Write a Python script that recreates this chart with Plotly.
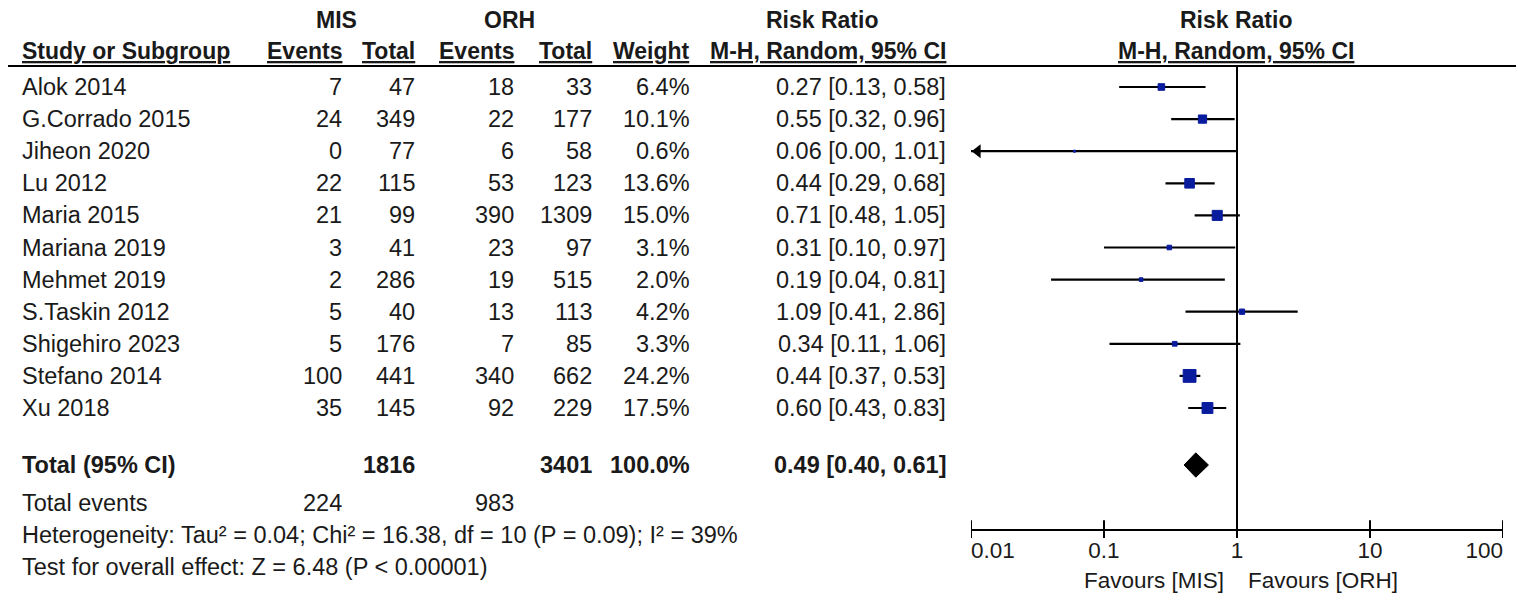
import plotly.graph_objects as go
import numpy as np

# ---------------- data ----------------
studies = ["Alok 2014", "G.Corrado 2015", "Jiheon 2020", "Lu 2012", "Maria 2015",
           "Mariana 2019", "Mehmet 2019", "S.Taskin 2012", "Shigehiro 2023",
           "Stefano 2014", "Xu 2018"]
mis_events = [7, 24, 0, 22, 21, 3, 2, 5, 5, 100, 35]
mis_total = [47, 349, 77, 115, 99, 41, 286, 40, 176, 441, 145]
orh_events = [18, 22, 6, 53, 390, 23, 19, 13, 7, 340, 92]
orh_total = [33, 177, 58, 123, 1309, 97, 515, 113, 85, 662, 229]
weight = [6.4, 10.1, 0.6, 13.6, 15.0, 3.1, 2.0, 4.2, 3.3, 24.2, 17.5]
rr = [0.27, 0.55, 0.06, 0.44, 0.71, 0.31, 0.19, 1.09, 0.34, 0.44, 0.60]
ci_low = [0.13, 0.32, 0.00, 0.29, 0.48, 0.10, 0.04, 0.41, 0.11, 0.37, 0.43]
ci_high = [0.58, 0.96, 1.01, 0.68, 1.05, 0.97, 0.81, 2.86, 1.06, 0.53, 0.83]

total_mis = 1816
total_orh = 3401
total_weight = 100.0
pooled = [0.49, 0.40, 0.61]          # RR, low, high
total_events = [224, 983]             # MIS, ORH
heterogeneity = "Heterogeneity: Tau² = 0.04; Chi² = 16.38, df = 10 (P = 0.09); I² = 39%"
overall_effect = "Test for overall effect: Z = 6.48 (P < 0.00001)"
tick_vals = [0.01, 0.1, 1, 10, 100]
tick_labels = ["0.01", "0.1", "1", "10", "100"]
favours = ["Favours [MIS]", "Favours [ORH]"]

# ---------------- layout constants ----------------
PAGE_OFF = 8                      # default body margin of the html page
W, H = 1524 - PAGE_OFF, 608 - PAGE_OFF
ROW0, ROWH = 87, 32.1             # reference pixel y of first study row, row pitch


def prow(py):
    return (py - ROW0) / ROWH


def fx(px):
    return (px - PAGE_OFF) / W


X_LO, X_HI = -2, 2                # log10 range of forest axis
PX_LO, PX_HI = 971, 1503
FONT = "Liberation Sans, Arial, sans-serif"
FS = 23.5
HFS = 23
BLUE = "#0a1c9e"
TXT = "#1a1a1a"

col_right = {"mis_e": 344, "mis_t": 417, "orh_e": 516, "orh_t": 594,
             "w": 692, "ci": 948}

n = len(studies)
rows = list(range(n))
r_total = prow(465)
r_tev = prow(503)
r_het = prow(535)
r_test = prow(567)
r_h1 = prow(20)
r_h2 = prow(51)
r_hline = prow(66)
r_axis = prow(530)
r_ticklab = prow(552)
r_fav = prow(580)

fig = go.Figure()

annotations = []


def txt(xpx, y, s, anchor="right", bold=False, size=FS):
    annotations.append(dict(
        x=fx(xpx), xref="paper", y=y, yref="y", text=("<b>%s</b>" % s) if bold else s,
        showarrow=False, xanchor=anchor, yanchor="middle",
        font=dict(family=FONT, size=size, color=TXT)))


# headers
txt(336, r_h1, "MIS", "center", True, HFS)
txt(509, r_h1, "ORH", "center", True, HFS)
txt(822, r_h1, "Risk Ratio", "center", True, HFS)
txt(1236, r_h1, "Risk Ratio", "center", True, HFS)
txt(20, r_h2, "<u>Study or Subgroup</u>", "left", True, HFS)
for key, lab in [("mis_e", "Events"), ("mis_t", "Total"), ("orh_e", "Events"),
                 ("orh_t", "Total"), ("w", "Weight"), ("ci", "M-H, Random, 95% CI")]:
    txt(col_right[key], r_h2, "<u>%s</u>" % lab, "right", True, HFS)
txt(1236, r_h2, "<u>M-H, Random, 95% CI</u>", "center", True, HFS)

# study rows
for i in rows:
    txt(20, i, studies[i], "left")
    txt(col_right["mis_e"], i, str(mis_events[i]))
    txt(col_right["mis_t"], i, str(mis_total[i]))
    txt(col_right["orh_e"], i, str(orh_events[i]))
    txt(col_right["orh_t"], i, str(orh_total[i]))
    txt(col_right["w"], i, "%.1f%%" % weight[i])
    txt(col_right["ci"], i, "%.2f [%.2f, %.2f]" % (rr[i], ci_low[i], ci_high[i]))

# totals
txt(20, r_total, "Total (95% CI)", "left", True)
txt(col_right["mis_t"], r_total, str(total_mis), bold=True)
txt(col_right["orh_t"], r_total, str(total_orh), bold=True)
txt(col_right["w"], r_total, "%.1f%%" % total_weight, bold=True)
txt(col_right["ci"], r_total, "%.2f [%.2f, %.2f]" % tuple(pooled), bold=True)
txt(20, r_tev, "Total events", "left")
txt(col_right["mis_e"], r_tev, str(total_events[0]))
txt(col_right["orh_e"], r_tev, str(total_events[1]))
txt(20, r_het, heterogeneity, "left")
txt(20, r_test, overall_effect, "left")

# favours labels
txt(1226, r_fav, favours[0], "right", size=FS - 1)
txt(1246, r_fav, favours[1], "left", size=FS - 1)

# ---------------- forest traces ----------------
lo_lim, hi_lim = 10 ** X_LO, 10 ** X_HI
# CI lines
cx, cy = [], []
for i in rows:
    cx += [max(ci_low[i], lo_lim), min(ci_high[i], hi_lim), None]
    cy += [i, i, None]
fig.add_trace(go.Scatter(x=cx, y=cy, mode="lines", line=dict(color="black", width=2.2),
                         hoverinfo="skip"))
# arrows for truncated CIs
ax = [lo_lim * 10 ** 0.05 for i in rows if ci_low[i] < lo_lim]
ay = [i for i in rows if ci_low[i] < lo_lim]
fig.add_trace(go.Scatter(x=ax, y=ay, mode="markers",
                         marker=dict(symbol="triangle-left", size=12, color="black"),
                         hoverinfo="skip"))
# point estimates (size by weight)
sizes = [2.6 * np.sqrt(w) for w in weight]
fig.add_trace(go.Scatter(x=rr, y=rows, mode="markers",
                         marker=dict(symbol="square", size=sizes, color=BLUE, opacity=1,
                                     line=dict(width=1, color=BLUE)),
                         hoverinfo="skip"))
# pooled diamond
dh = 0.38
fig.add_trace(go.Scatter(x=[pooled[1], pooled[0], pooled[2], pooled[0], pooled[1]],
                         y=[r_total, r_total - dh, r_total, r_total + dh, r_total],
                         mode="lines", fill="toself", fillcolor="black",
                         line=dict(color="black", width=1), hoverinfo="skip"))
# line of no effect
fig.add_trace(go.Scatter(x=[1, 1], y=[r_hline, r_axis], mode="lines",
                         line=dict(color="black", width=2), hoverinfo="skip"))
# axis line
fig.add_trace(go.Scatter(x=[tick_vals[0], tick_vals[-1]], y=[r_axis, r_axis], mode="lines",
                         line=dict(color="black", width=2), hoverinfo="skip"))
# ticks
tx, ty = [], []
for v in tick_vals:
    tx += [v, v, None]
    ty += [r_axis - 0.3, r_axis + 0.25, None]
fig.add_trace(go.Scatter(x=tx, y=ty, mode="lines", line=dict(color="black", width=2),
                         hoverinfo="skip"))
# tick labels (end labels aligned inward, as in the reference)
tpos = ["middle right"] + ["middle center"] * (len(tick_vals) - 2) + ["middle left"]
fig.add_trace(go.Scatter(x=tick_vals, y=[r_ticklab] * len(tick_vals), mode="text",
                         text=tick_labels, textposition=tpos,
                         textfont=dict(family=FONT, size=FS - 1, color=TXT),
                         hoverinfo="skip", cliponaxis=False))

# header separator line
shapes = [dict(type="line", xref="paper", x0=0, x1=1, yref="y", y0=r_hline, y1=r_hline,
               line=dict(color="black", width=2))]

fig.update_layout(
    width=W, height=H, margin=dict(l=0, r=0, t=0, b=0),
    paper_bgcolor="white", plot_bgcolor="white", showlegend=False,
    xaxis=dict(type="log", range=[X_LO, X_HI], domain=[fx(PX_LO), fx(PX_HI)],
               visible=False, fixedrange=True),
    yaxis=dict(range=[prow(608), prow(PAGE_OFF)], domain=[0, 1], visible=False,
               fixedrange=True),
    annotations=annotations, shapes=shapes,
)

fig.write_html("out.html")
